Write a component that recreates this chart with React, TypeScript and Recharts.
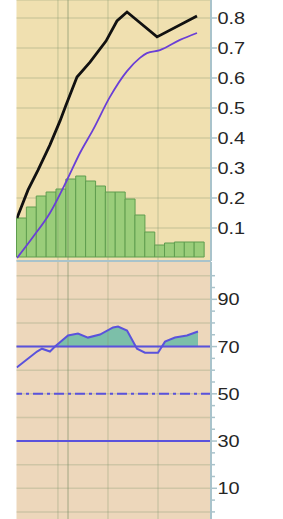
import React from 'react';
import { ComposedChart, Bar, Line, Area, XAxis, YAxis, CartesianGrid, ReferenceLine } from 'recharts';

// ---------- data ----------
const days = ['1', '2', '3', '4', '5', '6', '7', '8', '9', '10', '11', '12', '13', '14', '15', '16', '17', '18', '19'];
const volume = [390, 500, 610, 650, 680, 780, 810, 760, 710, 650, 650, 580, 420, 250, 120, 140, 150, 150, 150];

const priceT = [0.05, 1.17, 2.18, 3.39, 4.41, 5.02, 6.13, 7.45, 9.07, 10.18, 11.2, 14.24, 18.29];
const price = [0.133, 0.227, 0.293, 0.377, 0.457, 0.51, 0.603, 0.653, 0.723, 0.79, 0.82, 0.737, 0.807];

const avgT = [0.05, 1.67, 3.39, 5.12, 6.43, 7.75, 9.47, 11.2, 12.51, 13.22, 14.54, 16.57, 18.29];
const avg = [0.0, 0.07, 0.15, 0.26, 0.35, 0.427, 0.537, 0.623, 0.667, 0.683, 0.693, 0.727, 0.75];

const rsiT = [0.02, 2.08, 2.58, 3.39, 3.9, 5.22, 6.23, 7.24, 8.46, 9.78, 10.29, 11.2, 12.21, 13.02, 14.34, 15.05, 16.06, 17.27, 18.39];
const rsi = [61.1, 67.9, 69.1, 67.9, 70, 74.7, 75.5, 73.8, 75.1, 78.1, 78.5, 76.8, 69.1, 67.4, 67.4, 72.1, 73.8, 74.7, 76.4];

const gridT = [4.2, 5.22, 9.27, 14.34];
const priceTicks = [0.1, 0.2, 0.3, 0.4, 0.5, 0.6, 0.7, 0.8];
const rsiTicks = [0, 5, 10, 15, 20, 25, 30, 35, 40, 45, 50, 55, 60, 65, 70, 75, 80, 85, 90, 95, 100];
const rsiGridTicks = [0, 10, 20, 30, 40, 50, 60, 70, 80, 90, 100];
const rsiLabels = [10, 30, 50, 70, 90];
const rsiHigh = 70;
const rsiMid = 50;
const rsiLow = 30;

// ---------- derived tables ----------
const barData = days.map((d, i) => ({ day: d, volume: volume[i] }));
const priceData = priceT.map((t, i) => ({ t, v: price[i] }));
const avgData = avgT.map((t, i) => ({ t, v: avg[i] }));
const rsiData = rsiT.map((t, i) => ({ t, v: rsi[i] }));
const rsiBand: { t: number; band: [number, number] }[] = [];
for (let i = 0; i < rsi.length; i++) {
  rsiBand.push({ t: rsiT[i], band: [rsiHigh, Math.max(rsiHigh, rsi[i])] });
  if (i < rsi.length - 1) {
    const a = rsi[i] - rsiHigh;
    const b = rsi[i + 1] - rsiHigh;
    if (a * b < 0) {
      const f = a / (a - b);
      rsiBand.push({ t: rsiT[i] + f * (rsiT[i + 1] - rsiT[i]), band: [rsiHigh, rsiHigh] });
    }
  }
}

// ---------- styles ----------
const W = 283;
const AXIS = '#a9c3cb';
const GRID = 'rgba(130,150,110,0.28)';
const UPPER_BG = '#f0e0b0';
const LOWER_BG = '#edd7bb';
const BLUE = '#5a52dc';
const FONT = '"Liberation Sans", Arial, sans-serif';
const X_DOMAIN: [number, number] = [0, 19.71];
const MARGIN = { top: 0, right: 0, bottom: 0, left: 16.5 };

const AxisTick = (props: any) => {
  const { x, y, payload, labels, fmt } = props;
  const v = payload.value;
  const major = labels ? labels.includes(v) : true;
  return (
    <g>
      <line x1={x} y1={y} x2={x + (major ? 6 : 4)} y2={y} stroke={AXIS} strokeWidth={1.5} />
      {major && (
        <text
          transform={`translate(${x + 6.5},${y}) scale(1.2,1)`}
          dy="0.36em"
          textAnchor="start"
          fontFamily={FONT}
          fontSize={16.6}
          fill="#262626"
        >
          {fmt ? fmt(v) : v}
        </text>
      )}
    </g>
  );
};

export default function App() {
  return (
    <div style={{ position: 'absolute', left: 0, top: 0, width: W, height: 519 }}>
      <div style={{ position: 'absolute', left: 0, top: 0 }}>
        <ComposedChart width={W} height={262} data={barData} margin={MARGIN} barCategoryGap={0}>
          <CartesianGrid xAxisId="num" yAxisId="price" vertical={false} fill={UPPER_BG} stroke={GRID} strokeWidth={1.5} />
          <XAxis xAxisId="cat" dataKey="day" height={1} tick={false} tickLine={false} padding={{ left: 0, right: 7 }} axisLine={{ stroke: AXIS, strokeWidth: 2 }} />
          <XAxis xAxisId="num" type="number" dataKey="t" domain={X_DOMAIN} allowDataOverflow hide />
          <YAxis yAxisId="vol" orientation="left" width={0} domain={[-40, 2570]} allowDataOverflow tick={false} tickLine={false} axisLine={{ stroke: AXIS, strokeWidth: 2 }} />
          <YAxis
            yAxisId="price"
            orientation="right"
            width={72}
            domain={[-0.01, 0.86]}
            allowDataOverflow
            ticks={priceTicks}
            interval={0}
            tickSize={0}
            tickMargin={0}
            tickLine={false}
            axisLine={{ stroke: AXIS, strokeWidth: 2 }}
            tick={(p: any) => <AxisTick {...p} fmt={(v: number) => v.toFixed(1)} />}
          />
          {gridT.map((t, i) => (
            <ReferenceLine key={'g' + i} xAxisId="num" yAxisId="price" x={t} stroke={i === 1 ? 'rgba(120,140,100,0.42)' : GRID} strokeWidth={1.5} />
          ))}
          <Bar xAxisId="cat" yAxisId="vol" dataKey="volume" fill="#9acd7a" stroke="#5f9d4f" strokeWidth={1} isAnimationActive={false} />
          <Line xAxisId="num" yAxisId="price" data={avgData} dataKey="v" type="monotone" stroke="#6a3fd6" strokeWidth={1.8} dot={false} isAnimationActive={false} />
          <Line xAxisId="num" yAxisId="price" data={priceData} dataKey="v" type="linear" stroke="#111111" strokeWidth={2.8} dot={false} isAnimationActive={false} />
        </ComposedChart>
      </div>
      <div style={{ position: 'absolute', left: 0, top: 262 }}>
        <ComposedChart width={W} height={257} margin={MARGIN}>
          <CartesianGrid xAxisId="num" yAxisId="rsi" vertical={false} horizontalValues={rsiGridTicks} fill={LOWER_BG} stroke={GRID} strokeWidth={1.5} />
          <XAxis xAxisId="num" type="number" dataKey="t" domain={X_DOMAIN} allowDataOverflow hide />
          <YAxis yAxisId="left" orientation="left" width={0} domain={[-3, 105.8]} allowDataOverflow tick={false} tickLine={false} axisLine={{ stroke: AXIS, strokeWidth: 2 }} />
          <YAxis
            yAxisId="rsi"
            orientation="right"
            width={72}
            domain={[-3, 105.8]}
            allowDataOverflow
            ticks={rsiTicks}
            interval={0}
            tickSize={0}
            tickMargin={0}
            tickLine={false}
            axisLine={{ stroke: AXIS, strokeWidth: 2 }}
            tick={(p: any) => <AxisTick {...p} labels={rsiLabels} />}
          />
          {gridT.map((t, i) => (
            <ReferenceLine key={'lg' + i} xAxisId="num" yAxisId="rsi" x={t} stroke={i === 1 ? 'rgba(120,140,100,0.42)' : GRID} strokeWidth={1.5} />
          ))}
          <Area xAxisId="num" yAxisId="left" data={rsiBand} dataKey="band" type="linear" stroke="none" fill="#7cbfa9" fillOpacity={1} isAnimationActive={false} />
          <ReferenceLine xAxisId="num" yAxisId="rsi" y={rsiHigh} stroke={BLUE} strokeWidth={2} />
          <ReferenceLine xAxisId="num" yAxisId="rsi" y={rsiMid} stroke={BLUE} strokeWidth={2} strokeDasharray="10 4 3 4" />
          <ReferenceLine xAxisId="num" yAxisId="rsi" y={rsiLow} stroke={BLUE} strokeWidth={2} />
          <Line xAxisId="num" yAxisId="rsi" data={rsiData} dataKey="v" type="linear" stroke={BLUE} strokeWidth={2} dot={false} isAnimationActive={false} />
        </ComposedChart>
      </div>
    </div>
  );
}
